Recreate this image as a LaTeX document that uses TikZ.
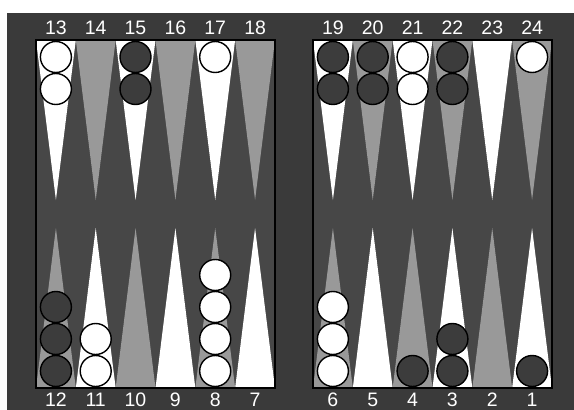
\documentclass[tikz,border=0pt]{standalone}
\usepackage{fontspec}
\newfontfamily\labfont{Liberation Sans}
\definecolor{framecol}{HTML}{3A3A3A}
\definecolor{fieldcol}{HTML}{474747}
\definecolor{trigray}{HTML}{999999}
\definecolor{darkchk}{HTML}{3C3C3C}
\tikzset{
  lbl/.style={text=white, font=\labfont\fontsize{19.5}{20}\selectfont, anchor=base, inner sep=0pt},
  wchk/.style={circle, draw=black, fill=white, line width=1.4pt, minimum size=31pt, inner sep=0pt},
  bchk/.style={circle, draw=black, fill=darkchk, line width=1.4pt, minimum size=31pt, inner sep=0pt},
  fieldedge/.style={draw=black, line width=2pt}
}
\begin{document}
\begin{tikzpicture}[x=1pt,y=-1pt]
\useasboundingbox (0,0) rectangle (574,410);
\fill[white] (0,0) rectangle (574,410);
\fill[framecol] (7,13) rectangle (574,410);
\fill[fieldcol] (36,40) rectangle (275,388);
\fill[fieldcol] (313,40) rectangle (552,388);
% triangles
\foreach \s in {36,313} {
  \foreach \i in {0,...,5} {
    \pgfmathsetmacro{\xa}{\s+\i*39.83}
    \pgfmathsetmacro{\xb}{\xa+39.83}
    \pgfmathsetmacro{\xm}{\xa+19.915}
    \ifodd\i \def\tc{trigray}\def\bc{white}\else\def\tc{white}\def\bc{trigray}\fi
    \fill[\tc] (\xa,40) -- (\xb,40) -- (\xm,200) -- cycle;
    \fill[\bc] (\xa,388) -- (\xb,388) -- (\xm,228) -- cycle;
  }
}
\draw[fieldedge] (36,40) rectangle (275,388);
\draw[fieldedge] (313,40) rectangle (552,388);
% labels
\node[lbl] (n13) at (55.9,34) {13};
\node[lbl] (n14) at (95.7,34) {14};
\node[lbl] (n15) at (135.5,34) {15};
\node[lbl] (n16) at (175.4,34) {16};
\node[lbl] (n17) at (215.2,34) {17};
\node[lbl] (n18) at (255.1,34) {18};
\node[lbl] (n19) at (332.9,34) {19};
\node[lbl] (n20) at (372.7,34) {20};
\node[lbl] (n21) at (412.6,34) {21};
\node[lbl] (n22) at (452.4,34) {22};
\node[lbl] (n23) at (492.3,34) {23};
\node[lbl] (n24) at (532.1,34) {24};
\node[lbl] (n12) at (55.9,406) {12};
\node[lbl] (n11) at (95.7,406) {11};
\node[lbl] (n10) at (135.5,406) {10};
\node[lbl] (n9) at (175.4,406) {9};
\node[lbl] (n8) at (215.2,406) {8};
\node[lbl] (n7) at (255.1,406) {7};
\node[lbl] (n6) at (332.9,406) {6};
\node[lbl] (n5) at (372.7,406) {5};
\node[lbl] (n4) at (412.6,406) {4};
\node[lbl] (n3) at (452.4,406) {3};
\node[lbl] (n2) at (492.3,406) {2};
\node[lbl] (n1) at (532.1,406) {1};
% checkers top
\node[wchk] (c13a) at (55.9,57) {};
\node[wchk] (c13b) at (55.9,89) {};
\node[bchk] (c15a) at (135.5,57) {};
\node[bchk] (c15b) at (135.5,89) {};
\node[wchk] (c17a) at (215.2,57) {};
\node[bchk] (c19a) at (332.9,57) {};
\node[bchk] (c19b) at (332.9,89) {};
\node[bchk] (c20a) at (372.7,57) {};
\node[bchk] (c20b) at (372.7,89) {};
\node[wchk] (c21a) at (412.6,57) {};
\node[wchk] (c21b) at (412.6,89) {};
\node[bchk] (c22a) at (452.4,57) {};
\node[bchk] (c22b) at (452.4,89) {};
\node[wchk] (c24a) at (532.1,57) {};
% checkers bottom
\node[bchk] (c12a) at (55.9,371) {};
\node[bchk] (c12b) at (55.9,339) {};
\node[bchk] (c12c) at (55.9,307) {};
\node[wchk] (c11a) at (95.7,371) {};
\node[wchk] (c11b) at (95.7,339) {};
\node[wchk] (c8a) at (215.2,371) {};
\node[wchk] (c8b) at (215.2,339) {};
\node[wchk] (c8c) at (215.2,307) {};
\node[wchk] (c8d) at (215.2,275) {};
\node[wchk] (c6a) at (332.9,371) {};
\node[wchk] (c6b) at (332.9,339) {};
\node[wchk] (c6c) at (332.9,307) {};
\node[bchk] (c4a) at (412.6,371) {};
\node[bchk] (c3a) at (452.4,371) {};
\node[bchk] (c3b) at (452.4,339) {};
\node[bchk] (c1a) at (532.1,371) {};
\end{tikzpicture}
\end{document}
